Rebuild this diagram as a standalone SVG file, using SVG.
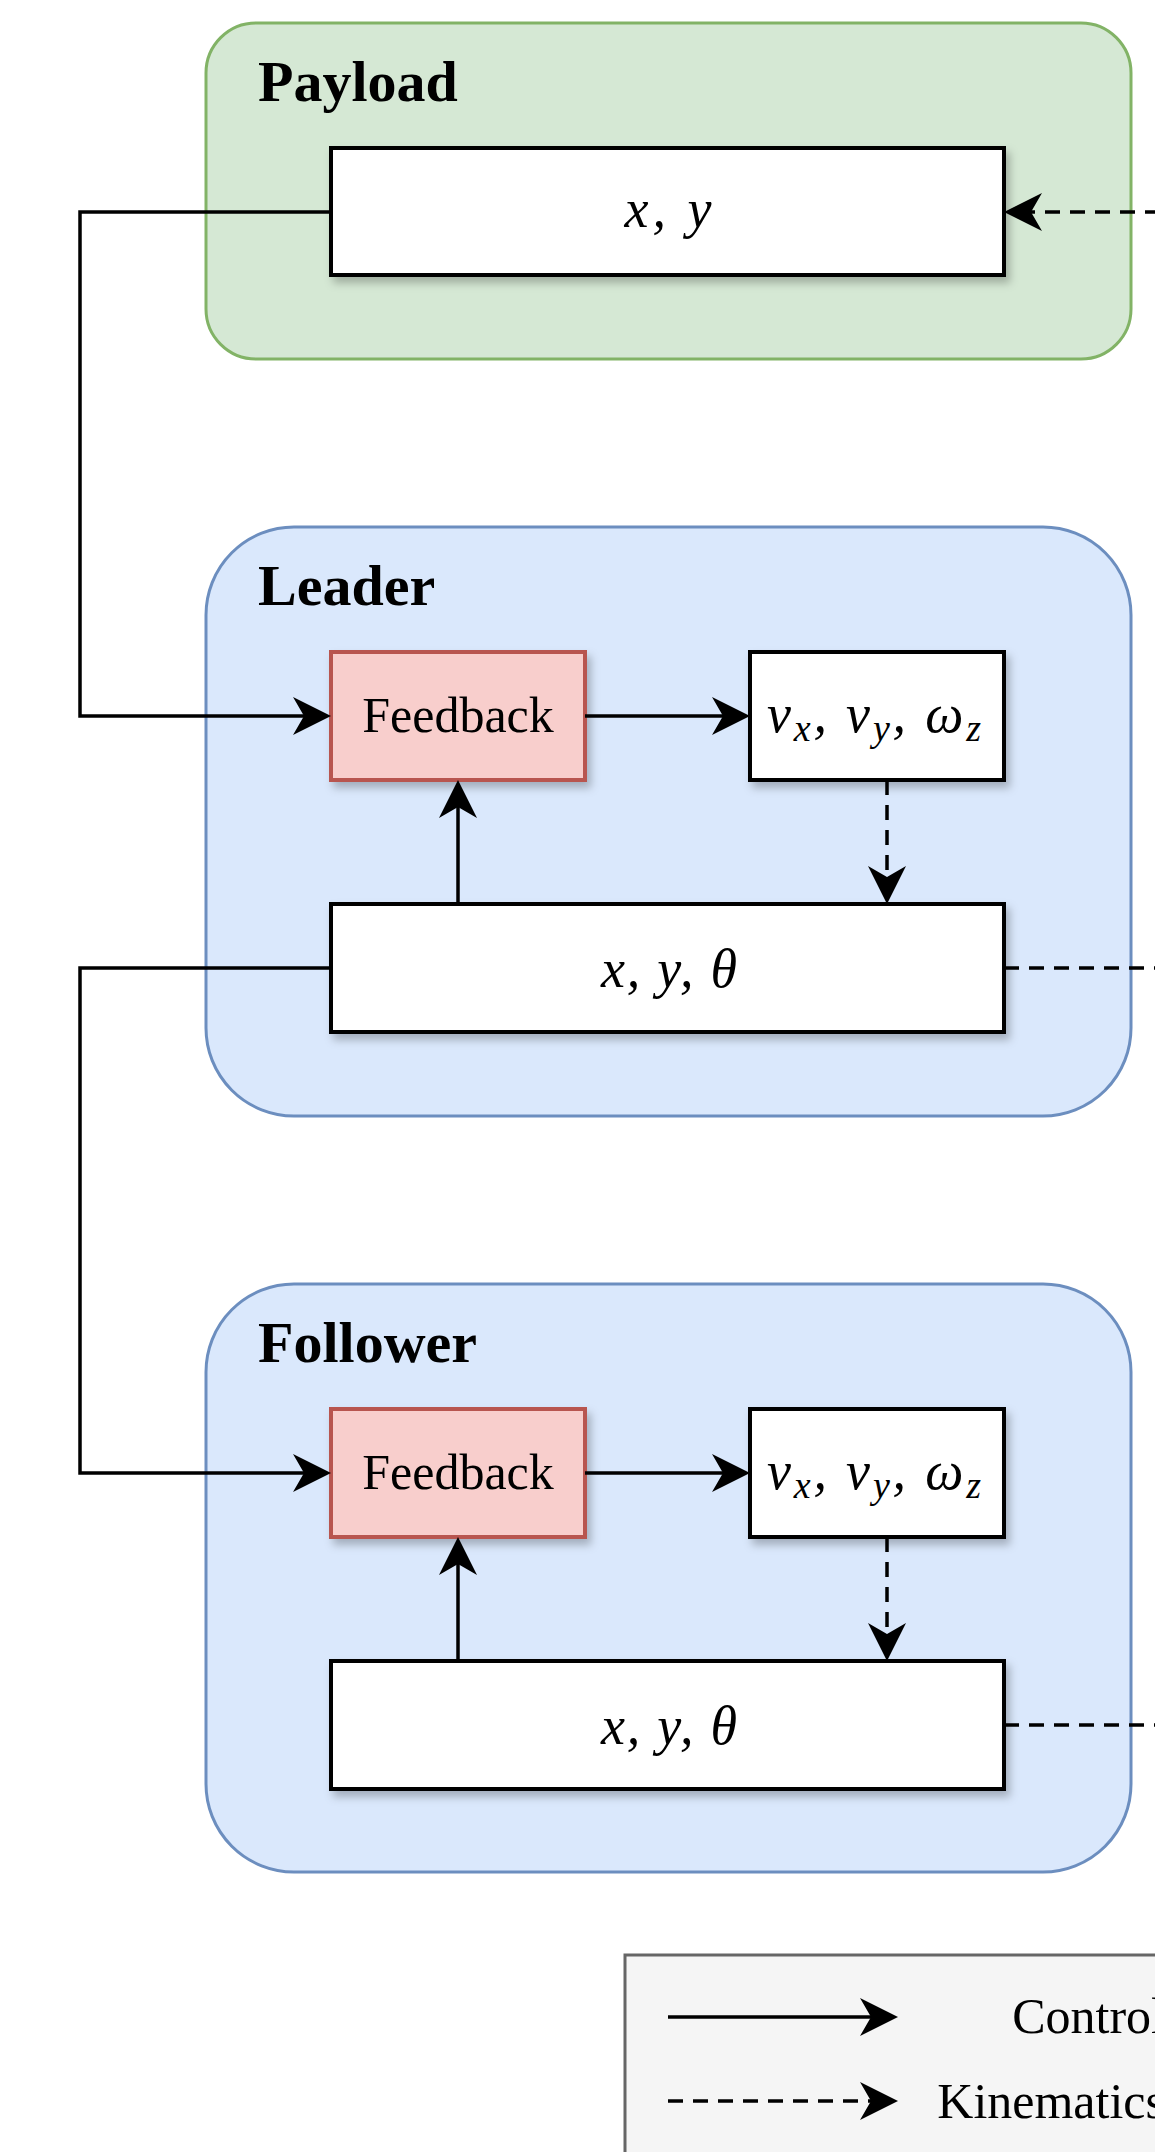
<svg xmlns="http://www.w3.org/2000/svg" width="1155" height="2152" viewBox="0 0 1155 2152">
<style>
.payload{fill:#d5e8d4;stroke:#82b366;stroke-width:3}
.robot{fill:#dae8fc;stroke:#6c8ebf;stroke-width:3}
.box{fill:#ffffff;stroke:#000000;stroke-width:4;filter:url(#sh)}
.fb{fill:#f8cecc;stroke:#b85450;stroke-width:4;filter:url(#sh)}
.title{font-family:"Liberation Serif",serif;font-weight:bold;font-size:58px;fill:#000}
.lbl{font-family:"Liberation Serif",serif;font-size:50px;fill:#000;text-anchor:middle}
.math{font-family:"Liberation Serif",serif;font-style:italic;font-size:54px;fill:#000;text-anchor:middle}
.sub{font-size:38px}
.ctl{fill:none;stroke:#000;stroke-width:3.5;marker-end:url(#arr)}
.kin{fill:none;stroke:#000;stroke-width:3.5;stroke-dasharray:15 10}
.kina{fill:none;stroke:#000;stroke-width:3.5;stroke-dasharray:15 10;marker-end:url(#arr)}
.legtxt{font-family:"Liberation Serif",serif;font-size:50px;fill:#000;text-anchor:end}
</style>
<defs>
<filter id="sh" x="-10%" y="-20%" width="130%" height="150%">
<feDropShadow dx="4" dy="6" stdDeviation="4" flood-color="#000" flood-opacity="0.25"/>
</filter>
<marker id="arr" viewBox="-40 -21 42 42" refX="-27" refY="0" markerWidth="42" markerHeight="42" markerUnits="userSpaceOnUse" orient="auto">
<path d="M0,0 L-38,-19 L-27,0 L-38,19 Z" fill="#000"/>
</marker>
</defs>

<g id="payload">
<rect class="payload" x="206" y="23" width="925" height="336" rx="50" ry="50"/>
<text class="title" x="258" y="101">Payload</text>
</g>
<g id="payload-xy">
<rect class="box" x="331" y="148" width="673" height="127"/>
<text class="math" x="668" y="227" textLength="87" lengthAdjust="spacing">x, y</text>
</g>

<g id="leader">
<rect class="robot" x="206" y="527" width="925" height="589" rx="88" ry="88"/>
<text class="title" x="258" y="605">Leader</text>
</g>
<g id="leader-feedback">
<rect class="fb" x="331" y="652" width="254" height="128"/>
<text class="lbl" x="458" y="732">Feedback</text>
</g>
<g id="leader-vel">
<rect class="box" x="750" y="652" width="254" height="128"/>
<text class="math" x="874" y="732" textLength="214" lengthAdjust="spacing">v<tspan class="sub" dy="9">x</tspan><tspan dy="-9">, v</tspan><tspan class="sub" dy="9">y</tspan><tspan dy="-9">, ω</tspan><tspan class="sub" dy="9">z</tspan></text>
</g>
<g id="leader-pose">
<rect class="box" x="331" y="904" width="673" height="128"/>
<text class="math" x="669" y="987" textLength="136" lengthAdjust="spacing">x, y, θ</text>
</g>

<g id="follower">
<rect class="robot" x="206" y="1284" width="925" height="588" rx="88" ry="88"/>
<text class="title" x="258" y="1362">Follower</text>
</g>
<g id="follower-feedback">
<rect class="fb" x="331" y="1409" width="254" height="128"/>
<text class="lbl" x="458" y="1489">Feedback</text>
</g>
<g id="follower-vel">
<rect class="box" x="750" y="1409" width="254" height="128"/>
<text class="math" x="874" y="1489" textLength="214" lengthAdjust="spacing">v<tspan class="sub" dy="9">x</tspan><tspan dy="-9">, v</tspan><tspan class="sub" dy="9">y</tspan><tspan dy="-9">, ω</tspan><tspan class="sub" dy="9">z</tspan></text>
</g>
<g id="follower-pose">
<rect class="box" x="331" y="1661" width="673" height="128"/>
<text class="math" x="669" y="1744" textLength="136" lengthAdjust="spacing">x, y, θ</text>
</g>

<g id="connectors">
<path class="ctl" d="M331,212 H80 V716 H304"/>
<path class="ctl" d="M585,716 H723"/>
<path class="ctl" d="M458,904 V807"/>
<path class="kina" d="M887,780 V877"/>
<path class="kina" d="M1160,212 H1031"/>
<path class="kin" d="M1004,968 H1160"/>
<path class="ctl" d="M331,968 H80 V1473 H304"/>
<path class="ctl" d="M585,1473 H723"/>
<path class="ctl" d="M458,1661 V1564"/>
<path class="kina" d="M887,1537 V1634"/>
<path class="kin" d="M1004,1725 H1160"/>
</g>

<g id="legend">
<rect x="625" y="1955" width="620" height="300" fill="#f5f5f5" stroke="#666666" stroke-width="3"/>
<path class="ctl" d="M668,2017 H871"/>
<text class="legtxt" x="1165" y="2033">Control</text>
<path class="kina" d="M668,2101 H871"/>
<text class="legtxt" x="1165" y="2118">Kinematics</text>
</g>
</svg>
